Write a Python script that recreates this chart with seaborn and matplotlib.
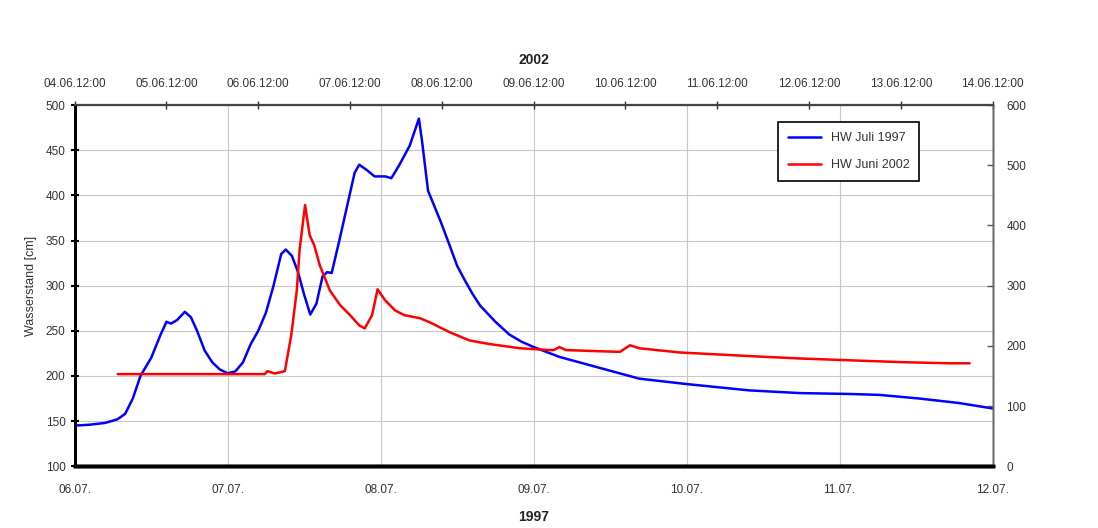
"""
Hochwasser 1997 vs 2002 - Wasserstand
"""

import pandas as pd
import numpy as np
import seaborn as sns
import matplotlib.pyplot as plt
import matplotlib.dates as mdates

sns.set_style('white')
plt.rcParams['font.family'] = ['Liberation Sans', 'DejaVu Sans']

# HW Juli 1997 - days since 06.07.1997 00:00, Wasserstand [cm]
days_1997 = [0.0, 0.1, 0.2, 0.28, 0.33, 0.38, 0.43, 0.5, 0.56, 0.6, 0.63, 0.67, 0.72, 0.76,
             0.8, 0.85, 0.9, 0.95, 1.0, 1.05, 1.1, 1.15, 1.2, 1.25, 1.3, 1.35, 1.38, 1.42,
             1.46, 1.5, 1.54, 1.58, 1.62, 1.65, 1.68, 1.73, 1.79, 1.83, 1.86, 1.91, 1.96, 2.03,
             2.07, 2.12, 2.19, 2.23, 2.25, 2.27, 2.31, 2.39, 2.45, 2.5, 2.55, 2.6, 2.65, 2.75,
             2.84, 2.92, 3.0, 3.17, 3.43, 3.69, 4.0, 4.41, 4.74, 5.07, 5.26, 5.52, 5.78, 6.0]
level_1997 = [145, 146, 148, 152, 158, 175, 200, 220, 245, 260, 258, 262, 271, 265,
              250, 228, 215, 207, 203, 205, 215, 235, 250, 270, 300, 335, 340, 333,
              315, 290, 268, 280, 310, 315, 314, 350, 395, 425, 434, 428, 421, 421,
              419, 433, 455, 475, 485, 461, 405, 372, 345, 322, 306, 291, 278, 260,
              246, 238, 232, 221, 209, 197, 191, 184, 181, 180, 179, 175, 170, 164]

# HW Juni 2002 - days since 04.06.2002 12:00, right axis values
days_2002 = [0.47, 2.07, 2.10, 2.18, 2.29, 2.32, 2.36, 2.42, 2.45, 2.51, 2.56, 2.61, 2.67,
             2.78, 2.89, 3.0, 3.10, 3.16, 3.24, 3.30, 3.38, 3.49, 3.59, 3.76, 3.87, 4.08,
             4.30, 4.52, 4.85, 5.17, 5.22, 5.28, 5.35, 5.72, 5.94, 6.05, 6.15, 6.59, 7.35,
             7.90, 8.44, 8.99, 9.53, 9.75]
level_2002 = [153, 153, 158, 154, 158, 184, 218, 292, 359, 434, 384, 367, 334,
              292, 268, 251, 234, 229, 251, 294, 276, 259, 251, 246, 239, 223,
              209, 203, 196, 193, 193, 198, 193, 191, 190, 201, 196, 189, 183,
              179, 176, 173, 171, 171]

start_1997 = pd.Timestamp('1997-07-06 00:00')
start_2002 = pd.Timestamp('2002-06-04 12:00')
df97 = pd.DataFrame({'zeit': start_1997 + pd.to_timedelta(days_1997, unit='D'), 'wert': level_1997})
df02 = pd.DataFrame({'zeit': start_2002 + pd.to_timedelta(days_2002, unit='D'), 'wert': level_2002})

tick_color = '#333333'

fig = plt.figure(figsize=(10.98, 5.28), dpi=100)
ax = fig.add_axes([0.068, 0.117, 0.836, 0.684])
ax2 = ax.twinx()
ax3 = ax2.twiny()

sns.lineplot(data=df97, x='zeit', y='wert', ax=ax, color='#0000ff', linewidth=1.8, label='HW Juli 1997', legend=False)
sns.lineplot(data=df02, x='zeit', y='wert', ax=ax3, color='#ff0000', linewidth=1.8, label='HW Juni 2002', legend=False)

# bottom axis 1997
ax.set_xlim(start_1997, start_1997 + pd.Timedelta(days=6))
ax.set_ylim(100, 500)
ax.set_yticks(np.arange(100, 501, 50))
ax.xaxis.set_major_locator(mdates.DayLocator())
ax.xaxis.set_major_formatter(mdates.DateFormatter('%d.%m.'))
ax.grid(True, color='#c8c8c8', linewidth=0.8)
ax.set_xlabel('1997', fontsize=10, fontweight='bold', color='#222222', labelpad=10)
ax.set_ylabel('Wasserstand [cm]', fontsize=9, color=tick_color, labelpad=6)
ax.tick_params(axis='both', direction='inout', length=6, width=1.5, labelsize=8.5, colors=tick_color, color='black')
ax.tick_params(axis='x', pad=10)

# right axis
ax2.set_ylim(0, 600)
ax2.set_yticks(np.arange(0, 601, 100))
ax2.tick_params(axis='y', direction='in', length=4, width=1, labelsize=8.5, colors=tick_color, color='#555555', pad=10)

# top axis 2002
ax3.set_xlim(start_2002, start_2002 + pd.Timedelta(days=10))
ax3.xaxis.set_major_locator(mdates.HourLocator(byhour=[12]))
ax3.xaxis.set_major_formatter(mdates.DateFormatter('%d.%m.%H:%M'))
ax3.set_xlabel('2002', fontsize=10, fontweight='bold', color='#222222', labelpad=10)
ax3.tick_params(axis='x', direction='inout', length=6, width=1, labelsize=8.5, colors=tick_color, color='#333333', pad=8)

for a in (ax, ax2, ax3):
    a.spines['left'].set_linewidth(2)
    a.spines['left'].set_color('black')
    a.spines['bottom'].set_linewidth(2.5)
    a.spines['bottom'].set_color('black')
    a.spines['top'].set_linewidth(1.5)
    a.spines['top'].set_color('#444444')
    a.spines['right'].set_linewidth(1)
    a.spines['right'].set_color('#666666')

handles = [h for h in ax.lines if h.get_label() == 'HW Juli 1997'] + [h for h in ax3.lines if h.get_label() == 'HW Juni 2002']
leg = ax3.legend(handles=handles, loc='upper right', bbox_to_anchor=(0.927, 0.97), fontsize=9,
                 frameon=True, fancybox=False, edgecolor='black', framealpha=1,
                 handlelength=2.6, borderpad=0.8, labelspacing=1.2)
leg.get_frame().set_linewidth(1.2)
for t in leg.get_texts():
    t.set_color('#333333')

plt.savefig('out.png', dpi=100)
